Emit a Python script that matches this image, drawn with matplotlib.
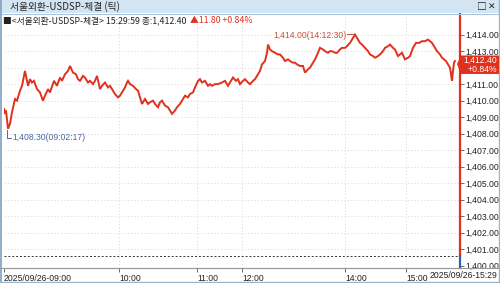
import matplotlib
matplotlib.use("Agg")
import matplotlib.pyplot as plt
from matplotlib.patches import Rectangle, Polygon
import matplotlib.transforms as mtransforms

# ---------------- data ----------------
# x = tick sequence position (chart is tick-based, not uniform time)
tick_pos = [0, 1, 2, 4, 6, 8, 11, 13, 16, 18, 21, 23, 24, 26, 28, 30, 33, 36, 39, 41, 44, 46,
            50, 53, 56, 58, 61, 64, 66, 69, 72, 74, 76, 79, 81, 84, 86, 89, 91, 93, 96, 98,
            101, 104, 106, 109, 111, 114, 116, 118, 121, 123, 124, 126, 129, 132, 134, 136,
            138, 141, 144, 146, 149, 151, 154, 156, 158, 161, 164, 166, 168, 171, 173, 176,
            178, 181, 184, 186, 189, 191, 194, 196, 198, 201, 204, 206, 208, 211, 214, 218,
            221, 224, 226, 229, 232, 234, 236, 239, 241, 244, 246, 249, 251, 254, 256, 258,
            261, 263, 264, 266, 268, 271, 274, 276, 279, 281, 284, 286, 289, 291, 293, 296,
            299, 301, 304, 306, 309, 311, 314, 316, 319, 321, 324, 326, 328, 331, 333, 336,
            338, 341, 343, 346, 348, 350, 351, 353, 354, 356, 358, 361, 364, 366, 369, 371,
            374, 376, 379, 381, 384, 386, 389, 391, 394, 396, 398, 401, 404, 406, 409, 412,
            415, 418, 421, 424, 426, 428, 431, 433, 436, 438, 440, 442, 444, 446, 447, 448,
            449, 450, 451]
price = [1409.5, 1409.2, 1409.4, 1408.3, 1408.6, 1409.3, 1410.1, 1410.0, 1410.6, 1410.9,
         1411.8, 1411.2, 1410.9, 1411.3, 1411.1, 1411.2, 1410.7, 1410.5, 1410.0, 1410.3,
         1410.7, 1410.5, 1411.2, 1410.9, 1411.4, 1411.2, 1411.6, 1411.8, 1412.1, 1411.7,
         1411.6, 1411.3, 1411.2, 1411.5, 1411.4, 1411.1, 1411.2, 1411.0, 1411.2, 1411.5,
         1410.7, 1410.9, 1411.1, 1410.8, 1410.9, 1410.6, 1410.4, 1410.2, 1410.3, 1410.5,
         1410.8, 1411.1, 1411.2, 1411.0, 1410.9, 1410.7, 1410.6, 1410.2, 1409.8, 1410.1,
         1409.8, 1409.9, 1410.0, 1409.8, 1409.6, 1409.9, 1410.0, 1409.7, 1409.6, 1409.4,
         1409.2, 1409.4, 1409.6, 1409.8, 1410.0, 1410.3, 1410.2, 1410.4, 1410.5, 1410.8,
         1411.2, 1411.3, 1411.1, 1411.2, 1410.9, 1411.0, 1410.9, 1411.0, 1411.0, 1411.1,
         1411.2, 1410.9, 1411.1, 1411.4, 1411.2, 1411.3, 1411.0, 1411.2, 1411.3, 1411.1,
         1411.0, 1411.2, 1411.3, 1411.6, 1411.8, 1412.2, 1412.4, 1412.9, 1413.4, 1413.1,
         1413.0, 1412.9, 1412.8, 1412.8, 1412.6, 1412.4, 1412.5, 1412.4, 1412.3, 1412.3,
         1412.2, 1412.1, 1412.1, 1411.7, 1411.9, 1412.0, 1412.3, 1412.5, 1412.9, 1413.2,
         1413.1, 1413.0, 1412.9, 1413.0, 1413.0, 1412.9, 1412.9, 1413.1, 1413.2, 1413.2,
         1413.3, 1413.5, 1413.7, 1413.9, 1414.0, 1413.8, 1413.7, 1413.5, 1413.4, 1413.2,
         1413.0, 1412.8, 1412.7, 1412.6, 1412.7, 1412.8, 1413.0, 1413.2, 1413.3, 1413.4,
         1413.2, 1413.1, 1412.7, 1412.8, 1412.9, 1412.5, 1412.6, 1412.7, 1413.2, 1413.5,
         1413.5, 1413.6, 1413.6, 1413.7, 1413.6, 1413.5, 1413.2, 1413.0, 1412.8, 1412.6,
         1412.5, 1412.4, 1412.2, 1412.0, 1411.6, 1411.2, 1411.8, 1412.3, 1412.4]

time_tick_pos = [0, 115, 193, 238, 341, 402]
time_tick_labels = ["2025/09/26-09:00", "10:00", "11:00", "12:00", "14:00", "15:00"]
end_label = "2025/09/26-15:29"
y_ticks = [1400, 1401, 1402, 1403, 1404, 1405, 1406, 1407, 1408, 1409, 1410, 1411,
           1412, 1413, 1414]
prev_close = 1400.60
last_price = 1412.40
change = 11.80
change_pct = 0.84
max_price, max_time, max_pos = 1414.00, "14:12:30", 351
min_price, min_time, min_pos = 1408.30, "09:02:17", 4

# ---------------- figure ----------------
W, H = 500, 283
fig = plt.figure(figsize=(W / 100, H / 100), dpi=100)
fig.patch.set_facecolor("white")
KR = ["Noto Sans CJK KR", "DejaVu Sans"]
NUM = ["Liberation Sans", "DejaVu Sans"]
FS = 6.2

def fx(px):
    return px / W

def fy(py):
    return 1 - py / H

ax = fig.add_axes([fx(4), fy(268), fx(456), (268 - 14) / H])
ax.set_xlim(0, 456)
ax.set_ylim(1399.86, 1415.25)

RED = "#e0301e"
for yv in y_ticks[1:]:
    ax.axhline(yv, color="#d8d8d8", lw=0.6, ls=(0, (1.5, 2.5)), zorder=0)
for xv in time_tick_pos[1:]:
    ax.axvline(xv, color="#d8d8d8", lw=0.6, ls=(0, (1.5, 2.5)), zorder=0)
ax.axhline(prev_close, color="#333333", lw=0.7, ls=(0, (2, 2)), zorder=1)

ax.plot(tick_pos, price, color=RED, lw=1.4, zorder=3, solid_joinstyle="miter")

for s in ["top", "left", "right"]:
    ax.spines[s].set_visible(False)
ax.spines["bottom"].set_color("#9a9a9a")
ax.spines["bottom"].set_linewidth(0.8)

tr = mtransforms.blended_transform_factory(ax.transAxes, ax.transData)
ax.plot([1, 1], [prev_close, 1415.25], color=RED, lw=1.6, transform=tr, clip_on=False, zorder=5)
ax.plot([1, 1], [1399.86, prev_close], color="#3060b0", lw=1.6, transform=tr, clip_on=False, zorder=5)

ax.yaxis.tick_right()
ax.set_yticks(y_ticks)
ax.set_yticklabels([f"{v:,.2f}" for v in y_ticks], family=NUM, fontsize=FS, color="#222222")
ax.tick_params(axis="y", direction="out", length=3, width=0.6, color="#555555", pad=1)
for lab, v in zip(ax.get_yticklabels(), y_ticks):
    if v == 1412:
        lab.set_visible(False)

ax.set_xticks(time_tick_pos)
ax.set_xticklabels(time_tick_labels, family=NUM, fontsize=FS, color="#222222", ha="left")
ax.tick_params(axis="x", direction="out", length=3, width=0.6, color="#555555", pad=1)
ax.set_facecolor("white")
fig.text(fx(497), fy(275.5), end_label, family=NUM, fontsize=FS, color="#222222",
         ha="right", va="center")

# max / min annotations
ax.plot([max_pos - 8, max_pos], [max_price + 0.05, max_price + 0.05], color="#c8503c", lw=0.7)
ax.text(max_pos - 8, max_price - 0.05, f"{max_price:,.2f}({max_time})", family=NUM,
        fontsize=FS, color="#c8503c", ha="right", va="center")
ax.plot([min_pos - 1, min_pos - 1, min_pos + 3], [min_price - 0.1, min_price - 0.55, min_price - 0.55],
        color="#4a6a9a", lw=0.7)
ax.text(min_pos + 4, min_price - 0.55, f"{min_price:,.2f}({min_time})", family=NUM,
        fontsize=FS, color="#4a6a9a", ha="left", va="center")

# ---------------- chrome ----------------
fig.patches.append(Rectangle((0, fy(13)), 1, 13 / H, transform=fig.transFigure,
                             facecolor="#d3e5f2", edgecolor="none", zorder=0))
fig.lines.append(plt.Line2D([0, 1], [fy(13.5), fy(13.5)], transform=fig.transFigure,
                            color="#a9c3da", lw=0.8))
fig.text(fx(10), fy(7), "서울외환-USDSP-체결 (틱)", family=KR, fontsize=7, color="#222222",
         va="center", ha="left")
fig.text(fx(481), fy(7), "□", family=KR, fontsize=7, color="#222222", va="center", ha="center",
         fontweight="bold")
fig.text(fx(492), fy(7), "✕", family=["DejaVu Sans"], fontsize=6.5, color="#222222",
         va="center", ha="center")
hdr = fig.text(fx(3), fy(20.5), "■<서울외환-USDSP-체결> 15:29:59 종:1,412.40", family=KR,
               fontsize=6.3, color="#222222", va="center", ha="left")
fig.canvas.draw()
bb = hdr.get_window_extent(renderer=fig.canvas.get_renderer())
fig.text((bb.x1 + 4) / W, fy(20.5), f"▲{change:.2f} +{change_pct:.2f}%", family=KR,
         fontsize=6.3, color=RED, va="center", ha="left")

# price tag
tag = Polygon([(fx(457), fy(64)), (fx(461), fy(55.5)), (fx(499), fy(55.5)), (fx(499), fy(74)),
               (fx(461), fy(74))], closed=True, transform=fig.transFigure,
              facecolor=RED, edgecolor="none", zorder=10)
fig.patches.append(tag)
fig.text(fx(497), fy(60.5), f"{last_price:,.2f}", family=NUM, fontsize=FS, color="white",
         ha="right", va="center", zorder=11)
fig.text(fx(497), fy(69.5), f"+{change_pct:.2f}%", family=NUM, fontsize=FS, color="white",
         ha="right", va="center", zorder=11)

# window frame
fig.lines.append(plt.Line2D([fx(0.8), fx(0.8)], [0, 1], transform=fig.transFigure,
                            color="#7f9fc0", lw=1.2))
fig.lines.append(plt.Line2D([0, 1], [fy(281.5), fy(281.5)], transform=fig.transFigure,
                            color="#9ab4cc", lw=1.0))
fig.lines.append(plt.Line2D([fx(499.3), fx(499.3)], [0, 1], transform=fig.transFigure,
                            color="#9ab4cc", lw=1.0))
fig.lines.append(plt.Line2D([0, 1], [fy(268), fy(268)], transform=fig.transFigure,
                            color="#9a9a9a", lw=0.8))

fig.savefig("out.png", dpi=100)
